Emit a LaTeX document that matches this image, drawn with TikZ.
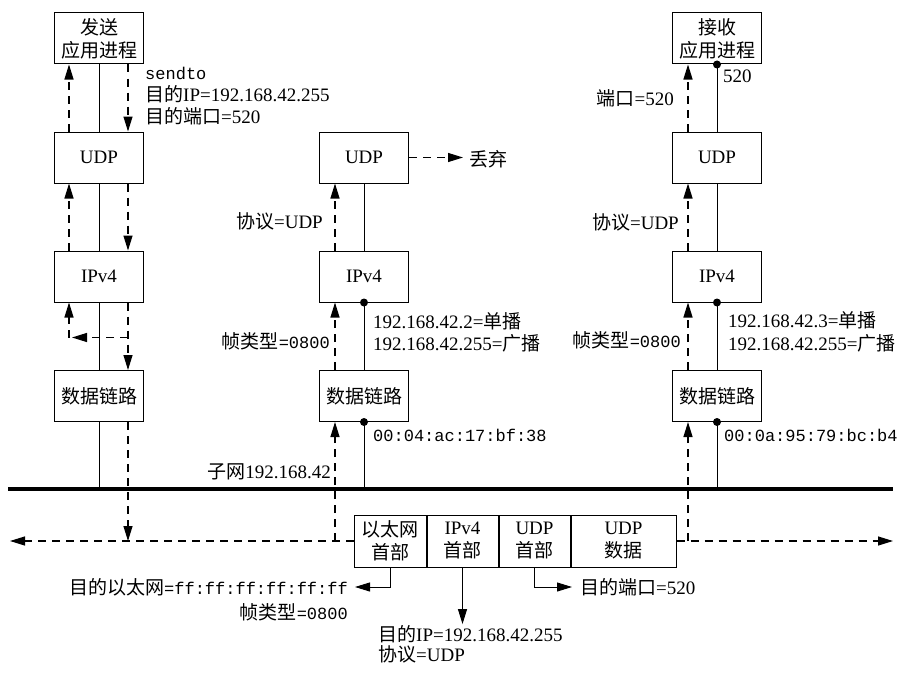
\documentclass[tikz,border=0pt]{standalone}
\usepackage{fontspec}
\setmainfont{Liberation Serif}
\setmonofont{Liberation Mono}
\newfontfamily\cjk{Noto Sans CJK SC}
\newcommand\zh[1]{{\cjk #1}}
\newcommand\mtt[1]{{\fontsize{17}{20}\selectfont\ttfamily #1}}
\usetikzlibrary{arrows.meta,calc}
\begin{document}
\begin{tikzpicture}[x=1pt,y=-1pt,
  layer/.style={draw,line width=1pt,minimum width=89pt,minimum height=51pt,inner sep=0pt,align=center,font=\fontsize{19}{23}\selectfont},
  cell/.style={draw,line width=1pt,minimum height=52pt,inner sep=0pt,align=center,font=\fontsize{19}{23}\selectfont},
  lbl/.style={inner sep=0pt,font=\fontsize{19}{22}\selectfont},
  mlbl/.style={inner sep=0pt,font=\fontsize{17}{22}\selectfont\ttfamily},
  sol/.style={line width=1pt},
  dsh/.style={line width=1.2pt,dash pattern=on 8pt off 6pt},
  arr/.style={-{Triangle[length=15pt,width=9pt]}},
  dotc/.style={circle,fill,inner sep=0pt,minimum size=8pt}
]
\useasboundingbox (0,0) rectangle (910,677);
\fill[white] (0,0) rectangle (910,677);

% ethernet
\coordinate (ethL) at (8,489);
\coordinate (ethR) at (893,489);
\draw[line width=4pt] (ethL) -- (ethR);

% left column
\node[layer] (apps) at (99,38.5) {\zh{发送}\\\zh{应用进程}};
\node[layer] (udps) at (99,157.5) {UDP};
\node[layer] (ips) at (99,276.5) {IPv4};
\node[layer] (dls) at (99,396) {\zh{数据链路}};

% middle column
\node[layer] (udpm) at (364,157.5) {UDP};
\node[layer] (ipm) at (364,276.5) {IPv4};
\node[layer] (dlm) at (364,396) {\zh{数据链路}};

% right column
\node[layer] (appr) at (717,38.5) {\zh{接收}\\\zh{应用进程}};
\node[layer] (udpr) at (717,157.5) {UDP};
\node[layer] (ipr) at (717,276.5) {IPv4};
\node[layer] (dlr) at (717,396) {\zh{数据链路}};

% solid links
\draw[sol] (apps) -- (udps);
\draw[sol] (udps) -- (ips);
\draw[sol] (ips) -- (dls);
\draw[sol] (dls.south) -- (dls.south |- ethL);
\draw[sol] (udpm) -- (ipm);
\draw[sol] (ipm) -- (dlm);
\draw[sol] (dlm.south) -- (dlm.south |- ethL);
\draw[sol] (appr) -- (udpr);
\draw[sol] (udpr) -- (ipr);
\draw[sol] (ipr) -- (dlr);
\draw[sol] (dlr.south) -- (dlr.south |- ethL);

% dots
\node[dotc] (d1) at (ipm.south) {};
\node[dotc] (d2) at (dlm.south) {};
\node[dotc] (d3) at (appr.south) {};
\node[dotc] (d4) at (ipr.south) {};
\node[dotc] (d5) at (dlr.south) {};

% frame
\node[cell,minimum width=72pt] (fr1) at (390,541) {\zh{以太网}\\\zh{首部}};
\node[cell,minimum width=71pt,anchor=west] (fr2) at (fr1.east) {IPv4\\\zh{首部}};
\node[cell,minimum width=71pt,anchor=west] (fr3) at (fr2.east) {UDP\\\zh{首部}};
\node[cell,minimum width=105pt,anchor=west] (fr4) at (fr3.east) {UDP\\\zh{数据}};
\coordinate (farL) at (10,541);
\coordinate (farR) at (893,541);

% left column dashed
\draw[dsh,arr] ([xshift=-30pt]udps.north) -- ([xshift=-30pt]apps.south);
\draw[dsh,arr] ([xshift=29pt]apps.south) -- ([xshift=29pt]udps.north);
\draw[dsh,arr] ([xshift=-30pt]ips.north) -- ([xshift=-30pt]udps.south);
\draw[dsh,arr] ([xshift=29pt]udps.south) -- ([xshift=29pt]ips.north);
\draw[dsh,arr] ([xshift=29pt]ips.south) -- ([xshift=29pt]dls.north);
\coordinate (lc1) at ($([xshift=29pt]ips.south)+(0,35)$);
\coordinate (lc2) at ($([xshift=-30pt]ips.south)+(0,35)$);
\draw[dsh,arr] (lc1) -- ([xshift=3pt]lc2);
\draw[dsh,arr] (lc2) -- ([xshift=-30pt]ips.south);
\draw[dsh,arr] ([xshift=29pt]dls.south) -- ([xshift=29pt]dls.south |- farL);
\draw[dsh,arr] (fr1.west) -- (farL);

% middle column dashed
\draw[dsh,arr] ([xshift=-29pt]dlm.south |- farL) -- ([xshift=-29pt]dlm.south);
\draw[dsh,arr] ([xshift=-29pt]dlm.north) -- ([xshift=-29pt]ipm.south);
\draw[dsh,arr] ([xshift=-29pt]ipm.north) -- ([xshift=-29pt]udpm.south);
\coordinate (drop) at (463,157.5);
\draw[dsh,arr] (udpm.east) -- (drop);

% right column dashed
\draw[dsh,arr] (fr4.east) -- (farR);
\draw[dsh,arr] ([xshift=-29pt]dlr.south |- farR) -- ([xshift=-29pt]dlr.south);
\draw[dsh,arr] ([xshift=-29pt]dlr.north) -- ([xshift=-29pt]ipr.south);
\draw[dsh,arr] ([xshift=-29pt]ipr.north) -- ([xshift=-29pt]udpr.south);
\draw[dsh,arr] ([xshift=-29pt]udpr.north) -- ([xshift=-29pt]appr.south);

% labels left
\node[mlbl,anchor=west] (ls1) at (145,73) {sendto};
\node[lbl,anchor=west] (ls2) at (145,94) {\zh{目的}IP=192.168.42.255};
\node[lbl,anchor=west] (ls3) at (145,116) {\zh{目的端口}=520};

% labels middle
\node[lbl,anchor=west] (drtxt) at (469,159) {\zh{丢弃}};
\node[lbl,anchor=east] (pm) at (323,221) {\zh{协议}=UDP};
\node[lbl,anchor=east] (fm) at (330,341) {\zh{帧类型}\mtt{=0800}};
\node[lbl,anchor=west] (um) at (373,321) {192.168.42.2=\zh{单播}};
\node[lbl,anchor=west] (bm) at (373,343) {192.168.42.255=\zh{广播}};
\node[mlbl,anchor=west] (mm) at (373,435) {00:04:ac:17:bf:38};
\node[lbl,anchor=east] (sub) at (331,472) {\zh{子网}192.168.42};

% labels right
\node[lbl,anchor=west] (p520) at (723,76) {520};
\node[lbl,anchor=east] (pr1) at (674,98) {\zh{端口}=520};
\node[lbl,anchor=east] (pr2) at (679,222) {\zh{协议}=UDP};
\node[lbl,anchor=east] (frt) at (681,340) {\zh{帧类型}\mtt{=0800}};
\node[lbl,anchor=west] (ur) at (728,320) {192.168.42.3=\zh{单播}};
\node[lbl,anchor=west] (br) at (728,343) {192.168.42.255=\zh{广播}};
\node[mlbl,anchor=west] (mr) at (724,435) {00:0a:95:79:bc:b4};

% bottom labels
\node[lbl,anchor=east] (eth1) at (348,587) {\zh{目的以太网}\mtt{=ff:ff:ff:ff:ff:ff}};
\node[lbl,anchor=east] (eth2) at (348,612) {\zh{帧类型}\mtt{=0800}};
\node[lbl,anchor=west] (ip1) at (378,634) {\zh{目的}IP=192.168.42.255};
\node[lbl,anchor=west] (ip2) at (378,654) {\zh{协议}=UDP};
\node[lbl,anchor=west] (port) at (580,587) {\zh{目的端口}=520};

\draw[sol,arr] (fr1.south) |- ([xshift=7pt]eth1.east);
\draw[sol,arr,shorten >=1pt] (fr2.south) -- (fr2.south |- ip1.north);
\draw[sol,arr] (fr3.south) |- ([xshift=-8pt]port.west);
\end{tikzpicture}
\end{document}
